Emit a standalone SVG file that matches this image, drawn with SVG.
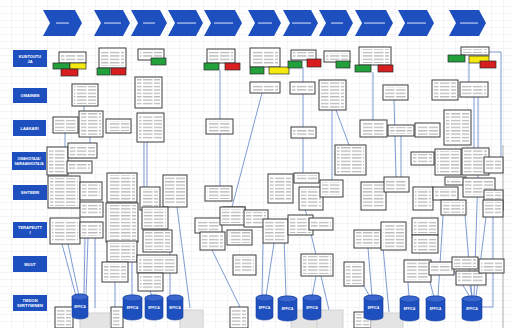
<svg xmlns="http://www.w3.org/2000/svg" width="512" height="328" viewBox="0 0 512 328">
<defs>
<pattern id="grid" patternUnits="userSpaceOnUse" width="12" height="7"><path d="M12 0V7M0 7H12" stroke="#d9dee8" stroke-width="0.6" fill="none"/></pattern>
<pattern id="txt" patternUnits="userSpaceOnUse" width="11" height="3.4"><rect x="0" y="1.2" width="9.5" height="0.8" fill="#8c8c8c"/></pattern>
<style>
.b{fill:#fff;stroke:#3c3c3c;stroke-width:1}
.t{fill:url(#txt)}
.lab{fill:#1d4fbf}
.lt{fill:#fff;font-family:"Liberation Sans",Arial,sans-serif;font-size:4px;font-weight:bold;text-anchor:middle}
.chev{fill:#1d4fbf}
.ct{fill:#c9d6f5}
.G{fill:#22a03c;stroke:#2a2a2a;stroke-width:0.7}
.R{fill:#d81e1e;stroke:#2a2a2a;stroke-width:0.7}
.Y{fill:#f4ea12;stroke:#2a2a2a;stroke-width:0.7}
.c{fill:none;stroke:#5f82c8;stroke-width:0.8}
.cyl{fill:#1d4fbf;stroke:#173f9a;stroke-width:0.6}
.cyt{fill:#3a66d0;stroke:#173f9a;stroke-width:0.6}
.et{fill:#fff;font-family:"Liberation Sans",Arial,sans-serif;font-size:3.2px;font-weight:bold;text-anchor:middle}
.gb{fill:#e4e4e4;stroke:#d2d2d2;stroke-width:1}
</style>
</defs>
<rect x="0" y="0" width="512" height="328" fill="#fff"/>
<rect x="0" y="0" width="512" height="328" fill="url(#grid)"/>
<line x1="503" y1="145" x2="503" y2="328" stroke="#c8c8c8" stroke-width="1.5"/>

<g id="header">
<path class="chev" d="M43 10H75L82 23L75 36H43L50 23Z"/>
<path class="chev" d="M94 10H123L130 23L123 36H94L101 23Z"/>
<path class="chev" d="M131 10H160L167 23L160 36H131L138 23Z"/>
<path class="chev" d="M168 10H196L203 23L196 36H168L175 23Z"/>
<path class="chev" d="M204 10H235L242 23L235 36H204L211 23Z"/>
<path class="chev" d="M248 10H274L281 23L274 36H248L255 23Z"/>
<path class="chev" d="M283 10H311L318 23L311 36H283L290 23Z"/>
<path class="chev" d="M319 10H346L353 23L346 36H319L326 23Z"/>
<path class="chev" d="M355 10H386L393 23L386 36H355L362 23Z"/>
<path class="chev" d="M398 10H427L434 23L427 36H398L405 23Z"/>
<path class="chev" d="M449 10H479L486 23L479 36H449L456 23Z"/>
<rect class="ct" x="56" y="22.5" width="13" height="1.1"/>
<rect class="ct" x="104" y="22.5" width="17" height="1.1"/>
<rect class="ct" x="143" y="22.5" width="12" height="1.1"/>
<rect class="ct" x="177" y="22.5" width="19" height="1.1"/>
<rect class="ct" x="214" y="22.5" width="19" height="1.1"/>
<rect class="ct" x="258" y="22.5" width="14" height="1.1"/>
<rect class="ct" x="292" y="22.5" width="19" height="1.1"/>
<rect class="ct" x="331" y="22.5" width="12" height="1.1"/>
<rect class="ct" x="364" y="22.5" width="21" height="1.1"/>
<rect class="ct" x="407" y="22.5" width="19" height="1.1"/>
<rect class="ct" x="460" y="22.5" width="18" height="1.1"/>
</g>

<g id="rows">
<rect class="lab" x="13" y="50" width="34" height="17"/><text class="lt" x="30" y="57.5">KUNTOUTU</text><text class="lt" x="30" y="62.5">JA</text>
<rect class="lab" x="13" y="88" width="34" height="15"/><text class="lt" x="30" y="97">OMAINEN</text>
<rect class="lab" x="13" y="120" width="33" height="16"/><text class="lt" x="29.5" y="129.5">LÄÄKÄRI</text>
<rect class="lab" x="12" y="152" width="34" height="18"/><text class="lt" x="29" y="159.5" style="font-size:3.3px">OMAHOITAJA/</text><text class="lt" x="29" y="164.5" style="font-size:3.3px">SAIRAANHOITAJA</text>
<rect class="lab" x="13" y="185" width="34" height="15"/><text class="lt" x="30" y="194">SIHTEERI</text>
<rect class="lab" x="13" y="222" width="34" height="16"/><text class="lt" x="30" y="229">TERAPEUTT</text><text class="lt" x="30" y="234">I</text>
<rect class="lab" x="13" y="256" width="34" height="16"/><text class="lt" x="30" y="265.5">MUUT</text>
<rect class="lab" x="13" y="295" width="34" height="16"/><text class="lt" x="30" y="302">TIEDON</text><text class="lt" x="30" y="307">SIIRTYMINEN</text>
</g>

<g id="connectors">
<path class="c" d="M220 70V119M220 134V186M84 106V111M303 67V82M303 94V127M303 138V173M373 72V120M394 100L396 177M401 136V177M469 63V82M474 97V148M478 97V148M489 52H501V160M493 217V307H482M262 93L232 207M332 110V180M336 110L349 145M144 142V207M147 142V207M65 133V147M90 137V143"/>
<path class="c" d="M62 244L76 296M68 244L79 296M85 238L84 296M88 238L86 296M95 238V308M115 282V307M132 262V297M170 252V296M177 207L190 308M150 291L152 296M212 250L240 307M217 225L208 218"/>
<path class="c" d="M263 243L262 296M274 243L266 296M284 235L286 297M303 200L329 310M316 276L312 297M368 248L372 297M364 286L370 297M383 247L389 312M408 282L409 297M428 275L434 297M443 215L438 297M453 269L470 297M465 215L472 297M470 285L472 297M478 175L474 297M486 217L476 297"/>
</g>

<g id="nodes">
<g id="n1"><rect class="b" x="59" y="52" width="27" height="11"/><rect class="t" x="61" y="54" width="23" height="7"/></g>
<g id="n2"><rect class="b" x="99" y="48" width="27" height="20"/><rect class="t" x="101" y="50" width="23" height="16"/></g>
<g id="n3"><rect class="b" x="138" y="49" width="26" height="11"/><rect class="t" x="140" y="51" width="22" height="7"/></g>
<g id="n4"><rect class="b" x="207" y="49" width="28" height="14"/><rect class="t" x="209" y="51" width="24" height="10"/></g>
<g id="n5"><rect class="b" x="250" y="48" width="30" height="19"/><rect class="t" x="252" y="50" width="26" height="15"/></g>
<g id="n6"><rect class="b" x="291" y="50" width="25" height="10"/><rect class="t" x="293" y="52" width="21" height="6"/></g>
<g id="n7"><rect class="b" x="324" y="51" width="26" height="11"/><rect class="t" x="326" y="53" width="22" height="7"/></g>
<g id="n8"><rect class="b" x="359" y="47" width="32" height="18"/><rect class="t" x="361" y="49" width="28" height="14"/></g>
<g id="n9"><rect class="b" x="461" y="47" width="28" height="8"/><rect class="t" x="463" y="49" width="24" height="4"/></g>

<g id="tags">
<rect class="G" x="53" y="63" width="17" height="6"/><rect class="Y" x="70" y="63" width="16" height="6"/><rect class="R" x="61" y="69" width="17" height="7"/>
<rect class="G" x="97" y="68" width="13" height="7"/><rect class="R" x="111" y="68" width="15" height="7"/>
<rect class="G" x="151" y="58" width="15" height="7"/>
<rect class="G" x="204" y="63" width="15" height="7"/><rect class="R" x="225" y="63" width="15" height="7"/>
<rect class="G" x="250" y="67" width="14" height="7"/><rect class="Y" x="269" y="67" width="20" height="7"/>
<rect class="G" x="288" y="61" width="14" height="7"/><rect class="R" x="307" y="59" width="14" height="8"/>
<rect class="G" x="336" y="61" width="14" height="7"/>
<rect class="G" x="355" y="65" width="16" height="7"/><rect class="R" x="378" y="65" width="15" height="7"/>
<rect class="G" x="448" y="55" width="17" height="7"/><rect class="Y" x="469" y="56" width="20" height="7"/><rect class="R" x="480" y="61" width="16" height="7"/>
</g>

<g id="n10"><rect class="b" x="72" y="84" width="26" height="22"/><rect class="t" x="74" y="86" width="22" height="18"/></g>
<g id="n11"><rect class="b" x="135" y="77" width="27" height="31"/><rect class="t" x="137" y="79" width="23" height="27"/></g>
<g id="n12"><rect class="b" x="250" y="82" width="30" height="11"/><rect class="t" x="252" y="84" width="26" height="7"/></g>
<g id="n13"><rect class="b" x="290" y="82" width="25" height="12"/><rect class="t" x="292" y="84" width="21" height="8"/></g>
<g id="n14"><rect class="b" x="319" y="80" width="27" height="30"/><rect class="t" x="321" y="82" width="23" height="26"/></g>
<g id="n15"><rect class="b" x="383" y="85" width="25" height="15"/><rect class="t" x="385" y="87" width="21" height="11"/></g>
<g id="n16"><rect class="b" x="432" y="80" width="26" height="20"/><rect class="t" x="434" y="82" width="22" height="16"/></g>
<g id="n17"><rect class="b" x="460" y="82" width="28" height="15"/><rect class="t" x="462" y="84" width="24" height="11"/></g>

<g id="n18"><rect class="b" x="53" y="117" width="25" height="16"/><rect class="t" x="55" y="119" width="21" height="12"/></g>
<g id="n19"><rect class="b" x="79" y="111" width="24" height="26"/><rect class="t" x="81" y="113" width="20" height="22"/></g>
<g id="n20"><rect class="b" x="106" y="119" width="25" height="14"/><rect class="t" x="108" y="121" width="21" height="10"/></g>
<g id="n21"><rect class="b" x="137" y="113" width="27" height="29"/><rect class="t" x="139" y="115" width="23" height="25"/></g>
<g id="n22"><rect class="b" x="206" y="119" width="27" height="15"/><rect class="t" x="208" y="121" width="23" height="11"/></g>
<g id="n23"><rect class="b" x="291" y="127" width="25" height="11"/><rect class="t" x="293" y="129" width="21" height="7"/></g>
<g id="n24"><rect class="b" x="360" y="120" width="27" height="17"/><rect class="t" x="362" y="122" width="23" height="13"/></g>
<g id="n25"><rect class="b" x="388" y="125" width="26" height="11"/><rect class="t" x="390" y="127" width="22" height="7"/></g>
<g id="n26"><rect class="b" x="415" y="123" width="25" height="14"/><rect class="t" x="417" y="125" width="21" height="10"/></g>
<g id="n27"><rect class="b" x="444" y="110" width="27" height="35"/><rect class="t" x="446" y="112" width="23" height="31"/></g>

<g id="n28"><rect class="b" x="47" y="147" width="21" height="28"/><rect class="t" x="49" y="149" width="17" height="24"/></g>
<g id="n29"><rect class="b" x="68" y="143" width="29" height="15"/><rect class="t" x="70" y="145" width="25" height="11"/></g>
<g id="n30"><rect class="b" x="67" y="161" width="25" height="12"/><rect class="t" x="69" y="163" width="21" height="8"/></g>
<g id="n31"><rect class="b" x="335" y="145" width="31" height="30"/><rect class="t" x="337" y="147" width="27" height="26"/></g>
<g id="n32"><rect class="b" x="411" y="152" width="23" height="13"/><rect class="t" x="413" y="154" width="19" height="9"/></g>
<g id="n33"><rect class="b" x="435" y="149" width="26" height="26"/><rect class="t" x="437" y="151" width="22" height="22"/></g>
<g id="n34"><rect class="b" x="462" y="148" width="27" height="27"/><rect class="t" x="464" y="150" width="23" height="23"/></g>
<g id="n35"><rect class="b" x="484" y="157" width="19" height="16"/><rect class="t" x="486" y="159" width="15" height="12"/></g>

<g id="n36"><rect class="b" x="48" y="176" width="32" height="32"/><rect class="t" x="50" y="178" width="28" height="28"/></g>
<g id="n37"><rect class="b" x="80" y="182" width="22" height="18"/><rect class="t" x="82" y="184" width="18" height="14"/></g>
<g id="n38"><rect class="b" x="107" y="173" width="30" height="29"/><rect class="t" x="109" y="175" width="26" height="25"/></g>
<g id="n39"><rect class="b" x="140" y="187" width="20" height="23"/><rect class="t" x="142" y="189" width="16" height="19"/></g>
<g id="n40"><rect class="b" x="163" y="175" width="24" height="32"/><rect class="t" x="165" y="177" width="20" height="28"/></g>
<g id="n41"><rect class="b" x="205" y="186" width="27" height="15"/><rect class="t" x="207" y="188" width="23" height="11"/></g>
<g id="n42"><rect class="b" x="223" y="207" width="22" height="10"/><rect class="t" x="225" y="209" width="18" height="6"/></g>
<g id="n43"><rect class="b" x="268" y="174" width="25" height="29"/><rect class="t" x="270" y="176" width="21" height="25"/></g>
<g id="n44"><rect class="b" x="294" y="173" width="25" height="10"/><rect class="t" x="296" y="175" width="21" height="6"/></g>
<g id="n45"><rect class="b" x="299" y="187" width="24" height="23"/><rect class="t" x="301" y="189" width="20" height="19"/></g>
<g id="n46"><rect class="b" x="320" y="180" width="23" height="17"/><rect class="t" x="322" y="182" width="19" height="13"/></g>
<g id="n47"><rect class="b" x="361" y="182" width="25" height="28"/><rect class="t" x="363" y="184" width="21" height="24"/></g>
<g id="n48"><rect class="b" x="384" y="177" width="25" height="15"/><rect class="t" x="386" y="179" width="21" height="11"/></g>
<g id="n49"><rect class="b" x="413" y="187" width="20" height="23"/><rect class="t" x="415" y="189" width="16" height="19"/></g>
<g id="n50"><rect class="b" x="433" y="187" width="25" height="13"/><rect class="t" x="435" y="189" width="21" height="9"/></g>
<g id="n51"><rect class="b" x="445" y="177" width="21" height="8"/><rect class="t" x="447" y="179" width="17" height="4"/></g>
<g id="n52"><rect class="b" x="463" y="178" width="32" height="19"/><rect class="t" x="465" y="180" width="28" height="15"/></g>
<g id="n53"><rect class="b" x="484" y="190" width="19" height="20"/><rect class="t" x="486" y="192" width="15" height="16"/></g>
<g id="n54"><rect class="b" x="441" y="200" width="25" height="15"/><rect class="t" x="443" y="202" width="21" height="11"/></g>

<g id="n55"><rect class="b" x="50" y="218" width="30" height="26"/><rect class="t" x="52" y="220" width="26" height="22"/></g>
<g id="n56"><rect class="b" x="80" y="222" width="23" height="16"/><rect class="t" x="82" y="224" width="19" height="12"/></g>
<g id="n57"><rect class="b" x="80" y="202" width="23" height="15"/><rect class="t" x="82" y="204" width="19" height="11"/></g>
<g id="n58"><rect class="b" x="106" y="203" width="32" height="39"/><rect class="t" x="108" y="205" width="28" height="35"/></g>
<g id="n59"><rect class="b" x="107" y="241" width="30" height="21"/><rect class="t" x="109" y="243" width="26" height="17"/></g>
<g id="n60"><rect class="b" x="142" y="207" width="26" height="22"/><rect class="t" x="144" y="209" width="22" height="18"/></g>
<g id="n61"><rect class="b" x="143" y="230" width="29" height="22"/><rect class="t" x="145" y="232" width="25" height="18"/></g>
<g id="n62"><rect class="b" x="137" y="255" width="40" height="18"/><rect class="t" x="139" y="257" width="36" height="14"/></g>
<g id="n63"><rect class="b" x="138" y="273" width="25" height="18"/><rect class="t" x="140" y="275" width="21" height="14"/></g>
<g id="n64"><rect class="b" x="102" y="262" width="26" height="20"/><rect class="t" x="104" y="264" width="22" height="16"/></g>
<g id="n65"><rect class="b" x="195" y="218" width="27" height="15"/><rect class="t" x="197" y="220" width="23" height="11"/></g>
<g id="n66"><rect class="b" x="200" y="232" width="25" height="18"/><rect class="t" x="202" y="234" width="21" height="14"/></g>
<g id="n67"><rect class="b" x="220" y="207" width="25" height="18"/><rect class="t" x="222" y="209" width="21" height="14"/></g>
<g id="n68"><rect class="b" x="227" y="230" width="25" height="15"/><rect class="t" x="229" y="232" width="21" height="11"/></g>
<g id="n69"><rect class="b" x="233" y="255" width="23" height="20"/><rect class="t" x="235" y="257" width="19" height="16"/></g>
<g id="n70"><rect class="b" x="244" y="210" width="24" height="17"/><rect class="t" x="246" y="212" width="20" height="13"/></g>
<g id="n71"><rect class="b" x="263" y="219" width="25" height="24"/><rect class="t" x="265" y="221" width="21" height="20"/></g>
<g id="n72"><rect class="b" x="288" y="215" width="25" height="20"/><rect class="t" x="290" y="217" width="21" height="16"/></g>
<g id="n73"><rect class="b" x="309" y="218" width="24" height="12"/><rect class="t" x="311" y="220" width="20" height="8"/></g>
<g id="n74"><rect class="b" x="301" y="254" width="32" height="22"/><rect class="t" x="303" y="256" width="28" height="18"/></g>
<g id="n75"><rect class="b" x="354" y="230" width="27" height="18"/><rect class="t" x="356" y="232" width="23" height="14"/></g>
<g id="n76"><rect class="b" x="381" y="222" width="25" height="28"/><rect class="t" x="383" y="224" width="21" height="24"/></g>
<g id="n77"><rect class="b" x="344" y="262" width="20" height="24"/><rect class="t" x="346" y="264" width="16" height="20"/></g>
<g id="n78"><rect class="b" x="412" y="218" width="26" height="17"/><rect class="t" x="414" y="220" width="22" height="13"/></g>
<g id="n79"><rect class="b" x="412" y="235" width="26" height="18"/><rect class="t" x="414" y="237" width="22" height="14"/></g>
<g id="n80"><rect class="b" x="404" y="260" width="27" height="22"/><rect class="t" x="406" y="262" width="23" height="18"/></g>
<g id="n81"><rect class="b" x="429" y="262" width="25" height="13"/><rect class="t" x="431" y="264" width="21" height="9"/></g>
<g id="n82"><rect class="b" x="452" y="257" width="26" height="12"/><rect class="t" x="454" y="259" width="22" height="8"/></g>
<g id="n83"><rect class="b" x="456" y="271" width="30" height="14"/><rect class="t" x="458" y="273" width="26" height="10"/></g>
<g id="n84"><rect class="b" x="479" y="259" width="25" height="14"/><rect class="t" x="481" y="261" width="21" height="10"/></g>
<g id="n85"><rect class="b" x="483" y="200" width="20" height="17"/><rect class="t" x="485" y="202" width="16" height="13"/></g>

<g id="n86"><rect class="b" x="55" y="307" width="18" height="21"/><rect class="t" x="57" y="309" width="14" height="19"/></g>
<g id="n87"><rect class="b" x="111" y="307" width="12" height="21"/><rect class="t" x="113" y="309" width="8" height="19"/></g>
<g id="n88"><rect class="b" x="230" y="307" width="18" height="21"/><rect class="t" x="232" y="309" width="14" height="19"/></g>
<g id="n89"><rect class="b" x="354" y="312" width="17" height="16"/><rect class="t" x="356" y="314" width="13" height="14"/></g>

<g id="shadows">
<rect class="gb" x="80" y="313" width="30" height="16"/>
<rect class="gb" x="180" y="310" width="23" height="19"/>
<rect class="gb" x="291" y="310" width="26" height="19"/>
<rect class="gb" x="317" y="310" width="26" height="19"/>
<rect class="gb" x="371" y="313" width="32" height="16"/>
</g>

<g id="db">
<g id="db1"><path class="cyl" d="M72 297a8 3 0 0 1 16 0v19a8 3 0 0 1-16 0Z"/><ellipse class="cyt" cx="80" cy="297" rx="8" ry="3"/><text class="et" x="80" y="308">EFFICA</text></g>
<g id="db2"><path class="cyl" d="M123 298a9.5 3 0 0 1 19 0v19a9.5 3 0 0 1-19 0Z"/><ellipse class="cyt" cx="132.5" cy="298" rx="9.5" ry="3"/><text class="et" x="132.5" y="309">EFFICA</text></g>
<g id="db3"><path class="cyl" d="M145 298a9 3 0 0 1 18 0v19a9 3 0 0 1-18 0Z"/><ellipse class="cyt" cx="154" cy="298" rx="9" ry="3"/><text class="et" x="154" y="309">EFFICA</text></g>
<g id="db4"><path class="cyl" d="M167 298a8 3 0 0 1 16 0v19a8 3 0 0 1-16 0Z"/><ellipse class="cyt" cx="175" cy="298" rx="8" ry="3"/><text class="et" x="175" y="309">EFFICA</text></g>
<g id="db5"><path class="cyl" d="M256 298a8.5 3 0 0 1 17 0v19a8.5 3 0 0 1-17 0Z"/><ellipse class="cyt" cx="264.5" cy="298" rx="8.5" ry="3"/><text class="et" x="264.5" y="309">EFFICA</text></g>
<g id="db6"><path class="cyl" d="M278 299a9.5 3 0 0 1 19 0v19a9.5 3 0 0 1-19 0Z"/><ellipse class="cyt" cx="287.5" cy="299" rx="9.5" ry="3"/><text class="et" x="287.5" y="310">EFFICA</text></g>
<g id="db7"><path class="cyl" d="M303 298a9 3 0 0 1 18 0v19a9 3 0 0 1-18 0Z"/><ellipse class="cyt" cx="312" cy="298" rx="9" ry="3"/><text class="et" x="312" y="309">EFFICA</text></g>
<g id="db8"><path class="cyl" d="M364 298a9.5 3 0 0 1 19 0v19a9.5 3 0 0 1-19 0Z"/><ellipse class="cyt" cx="373.5" cy="298" rx="9.5" ry="3"/><text class="et" x="373.5" y="309">EFFICA</text></g>
<g id="db9"><path class="cyl" d="M400 299a9.5 3 0 0 1 19 0v19a9.5 3 0 0 1-19 0Z"/><ellipse class="cyt" cx="409.5" cy="299" rx="9.5" ry="3"/><text class="et" x="409.5" y="310">EFFICA</text></g>
<g id="db10"><path class="cyl" d="M426 299a9.5 3 0 0 1 19 0v19a9.5 3 0 0 1-19 0Z"/><ellipse class="cyt" cx="435.5" cy="299" rx="9.5" ry="3"/><text class="et" x="435.5" y="310">EFFICA</text></g>
<g id="db11"><path class="cyl" d="M462 299a10 3 0 0 1 20 0v19a10 3 0 0 1-20 0Z"/><ellipse class="cyt" cx="472" cy="299" rx="10" ry="3"/><text class="et" x="472" y="310">EFFICA</text></g>
</g>
</g>
</svg>
